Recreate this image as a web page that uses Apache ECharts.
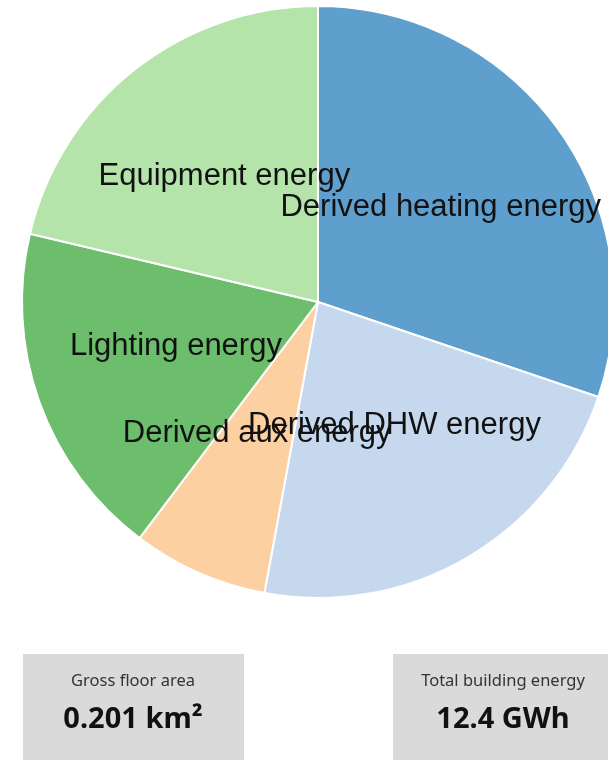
<!DOCTYPE html>
<html>
<head>
<meta charset="UTF-8">
<title>Building energy</title>
<script src="https://cdn.jsdelivr.net/npm/echarts/dist/echarts.min.js"></script>
<style>
  html, body { margin: 0; padding: 0; background: #fff; }
  #chart { width: 608px; height: 760px; }
</style>
</head>
<body>
<div id="chart"></div>
<script>
  // slice data (share of total building energy, %)
  const categories = ['Derived heating energy', 'Derived DHW energy', 'Derived aux energy', 'Lighting energy', 'Equipment energy'];
  const values = [30.2, 22.7, 7.4, 18.4, 21.3];
  const colors = ['#5f9fcd', '#c6d8ee', '#fdd0a1', '#6cbd6c', '#b4e4aa'];

  // summary tiles
  const tileTitles = ['Gross floor area', 'Total building energy'];
  const tileValues = ['0.201 km²', '12.4 GWh'];

  var myChart = echarts.init(document.getElementById('chart'));

  var tiles = [];
  var tileX = [23, 393];
  for (let i = 0; i < tileTitles.length; i++) {
    tiles.push({
      type: 'rect',
      shape: { x: tileX[i], y: 654, width: 221, height: 120 },
      style: { fill: '#dadada' },
      silent: true
    });
    tiles.push({
      type: 'text',
      x: tileX[i] + 110, y: 681,
      style: {
        text: tileTitles[i], align: 'center', verticalAlign: 'middle',
        font: '16.5px "Noto Sans", "Open Sans", sans-serif', fill: '#333'
      }
    });
    tiles.push({
      type: 'text',
      x: tileX[i] + 110, y: 720,
      style: {
        text: tileValues[i], align: 'center', verticalAlign: 'middle',
        font: 'bold 29px "Noto Sans", "Open Sans", sans-serif', fill: '#111'
      }
    });
  }

  var option = {
    animation: false,
    series: [{
      type: 'pie',
      center: [318, 302],
      radius: [0, 296],
      startAngle: 90,
      clockwise: true,
      avoidLabelOverlap: false,
      itemStyle: { borderColor: '#fff', borderWidth: 2 },
      label: {
        show: true,
        position: 'inside',
        formatter: '{b}',
        color: '#111',
        fontSize: 31,
        fontFamily: '"Liberation Sans", Arial, sans-serif',
        overflow: 'none',
        offset: [0, -7]
      },
      labelLayout: { hideOverlap: false },
      labelLine: { show: false },
      data: categories.map(function (c, i) {
        return { name: c, value: values[i], itemStyle: { color: colors[i] } };
      })
    }],
    graphic: { elements: tiles }
  };
  myChart.setOption(option);
</script>
</body>
</html>
